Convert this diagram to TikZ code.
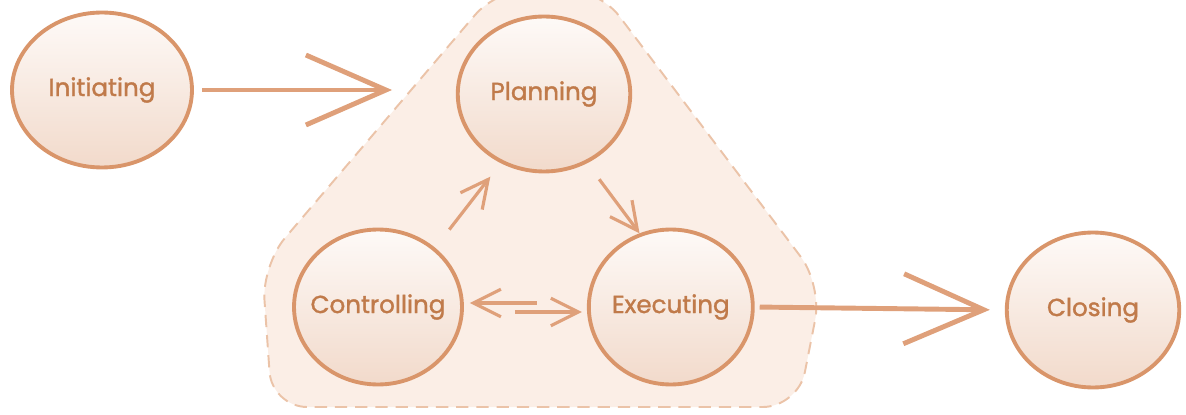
\documentclass[tikz,border=0pt]{standalone}
\usepackage{fontspec}
\setmainfont{Poppins}[UprightFeatures={FakeBold=1.4}]
\usetikzlibrary{shapes.geometric, arrows.meta, positioning}
\definecolor{ringcol}{HTML}{D9956A}
\definecolor{textcol}{HTML}{C07A4A}
\definecolor{arrowcol}{HTML}{DFA07A}
\definecolor{zonecol}{HTML}{FBEEE6}
\definecolor{dashcol}{HTML}{EBC3A8}

\begin{document}
\begin{tikzpicture}[x=0.02cm, y=-0.02cm,
    font=\fontsize{14}{16}\selectfont,
    phase/.style={ellipse,
        inner sep=0pt,
        inner xsep=-12pt,
        minimum width=3.45cm,
        minimum height=3.1cm,
        line width=2.2pt,
        draw=ringcol,
        top color=white!70!zonecol,
        bottom color=ringcol!35,
        text=textcol},
    bigarrow/.style={-{Straight Barb[length=1.6cm, width=1.4cm]},
        line width=2.8pt,
        draw=arrowcol},
    smallarrow/.style={-{Straight Barb[length=0.55cm, width=0.55cm]},
        line width=1.8pt,
        draw=arrowcol}]
    \useasboundingbox (0,0) rectangle (1186,415);
    % the dashed zone round the cycle
    \draw[dashcol,
        fill=zonecol,
        line width=1.1pt,
        dash pattern=on 7pt off 4.5pt,
        rounded corners=20pt]
        (498,-12) -- (598,-12) -- (822,285) -- (798,407)
        -- (272,407) -- (262,265) -- cycle;
    % Add the phases
        \node[phase,
              minimum width=3.6cm] (init) at (102,90) {Initiating};
        \node[phase] (plan) at (544,94) {Planning};
        \node[phase,
              minimum width=3.36cm] (ctrl) at (378,307) {Controlling};
        \node[phase,
              right=2.46cm of ctrl,
              minimum width=3.28cm] (exec) {Executing};
        \node[phase] (close) at (1093,310) {Closing};
        \coordinate (entry) at (392,90);

    \draw[bigarrow, shorten <=0.16cm] (init.east) -- (entry);
    \draw[bigarrow, shorten <=0.1cm, shorten >=0.3cm] (exec.east) -- (close.west);
    \draw[smallarrow, shorten <=0.46cm, shorten >=0.34cm] (ctrl.46) -- (plan.-122);
    \draw[smallarrow, shorten <=0.4cm] (plan.-58) -- (exec.113);
    \draw[smallarrow, shorten <=1cm, shorten >=0.12cm]
        ([yshift=0.08cm]exec.west) -- ([yshift=0.08cm]ctrl.east);
    \draw[smallarrow, shorten <=1.02cm, shorten >=0.1cm]
        ([yshift=-0.1cm]ctrl.east) -- ([yshift=-0.1cm]exec.west);
\end{tikzpicture}
\end{document}
